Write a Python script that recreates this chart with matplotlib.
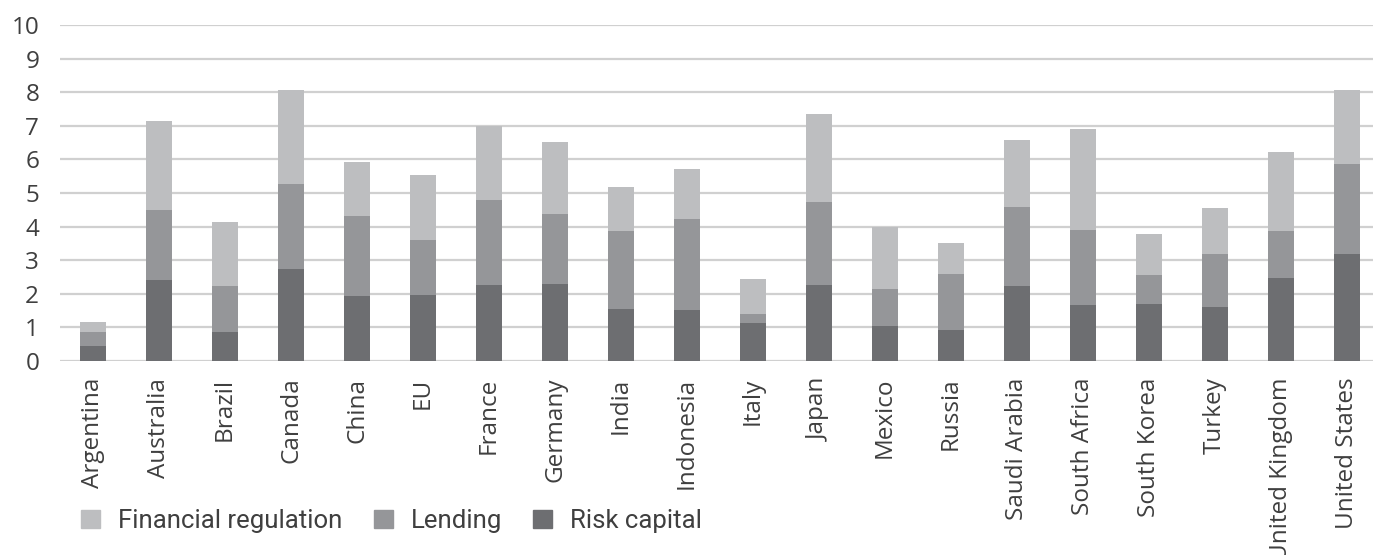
import matplotlib
matplotlib.use("Agg")
import matplotlib.pyplot as plt
from matplotlib import font_manager
from matplotlib.patches import Patch

countries = ["Argentina", "Australia", "Brazil", "Canada", "China", "EU", "France",
             "Germany", "India", "Indonesia", "Italy", "Japan", "Mexico", "Russia",
             "Saudi Arabia", "South Africa", "South Korea", "Turkey",
             "United Kingdom", "United States"]
risk_capital = [0.46, 2.42, 0.87, 2.75, 1.94, 1.97, 2.27, 2.30, 1.56, 1.53,
                1.14, 2.27, 1.05, 0.93, 2.24, 1.68, 1.71, 1.62, 2.48, 3.19]
lending = [0.41, 2.08, 1.37, 2.53, 2.39, 1.64, 2.53, 2.08, 2.32, 2.71,
           0.27, 2.47, 1.10, 1.67, 2.35, 2.23, 0.86, 1.57, 1.40, 2.68]
financial_regulation = [0.30, 2.65, 1.91, 2.80, 1.60, 1.94, 2.19, 2.15, 1.31, 1.48,
                        1.04, 2.62, 1.84, 0.92, 2.00, 3.00, 1.22, 1.37, 2.35, 2.21]

c_risk, c_lend, c_reg = "#6d6e71", "#959699", "#bdbec0"
text_c = "#3f3f3f"

names = {f.name for f in font_manager.fontManager.ttflist}
tick_font = "Open Sans" if "Open Sans" in names else "DejaVu Sans"
legend_font = "Liberation Sans Narrow" if "Liberation Sans Narrow" in names else "Roboto"

fig = plt.figure(figsize=(13.73, 5.55), dpi=100)
ax = fig.add_axes([60 / 1373, 194 / 555, 1320 / 1373, 336 / 555])

x = range(len(countries))
w = 0.39
ax.bar(x, risk_capital, w, color=c_risk, zorder=3)
ax.bar(x, lending, w, bottom=risk_capital, color=c_lend, zorder=3)
bottom2 = [a + b for a, b in zip(risk_capital, lending)]
ax.bar(x, financial_regulation, w, bottom=bottom2, color=c_reg, zorder=3)

ax.set_xlim(-0.5, len(countries) - 0.5)
ax.set_ylim(0, 10)
ax.set_yticks(range(0, 11))
ax.grid(axis="y", color="#d0d0d0", linewidth=1.6, zorder=0)
ax.set_axisbelow(True)
for s in ax.spines.values():
    s.set_visible(False)
ax.tick_params(axis="both", length=0)
ax.tick_params(axis="y", pad=15)
ax.tick_params(axis="x", pad=12)
ax.set_xticks(list(x))
ax.set_xticklabels(countries, rotation=90, fontsize=17.5, color=text_c,
                   family=tick_font)
for t in ax.get_yticklabels():
    t.set_fontsize(17.5)
    t.set_color(text_c)
    t.set_family(tick_font)

handles = [Patch(color=c_reg, label="Financial regulation"),
           Patch(color=c_lend, label="Lending"),
           Patch(color=c_risk, label="Risk capital")]
fig.legend(handles=handles, loc="center left", bbox_to_anchor=(58 / 1373, 1 - 521 / 555),
           ncol=3, frameon=False, handlelength=0.75, handleheight=0.75,
           handletextpad=0.7, columnspacing=1.2,
           prop={"family": legend_font, "size": 18.5}, labelcolor=text_c)

fig.savefig("out.png", dpi=100)
